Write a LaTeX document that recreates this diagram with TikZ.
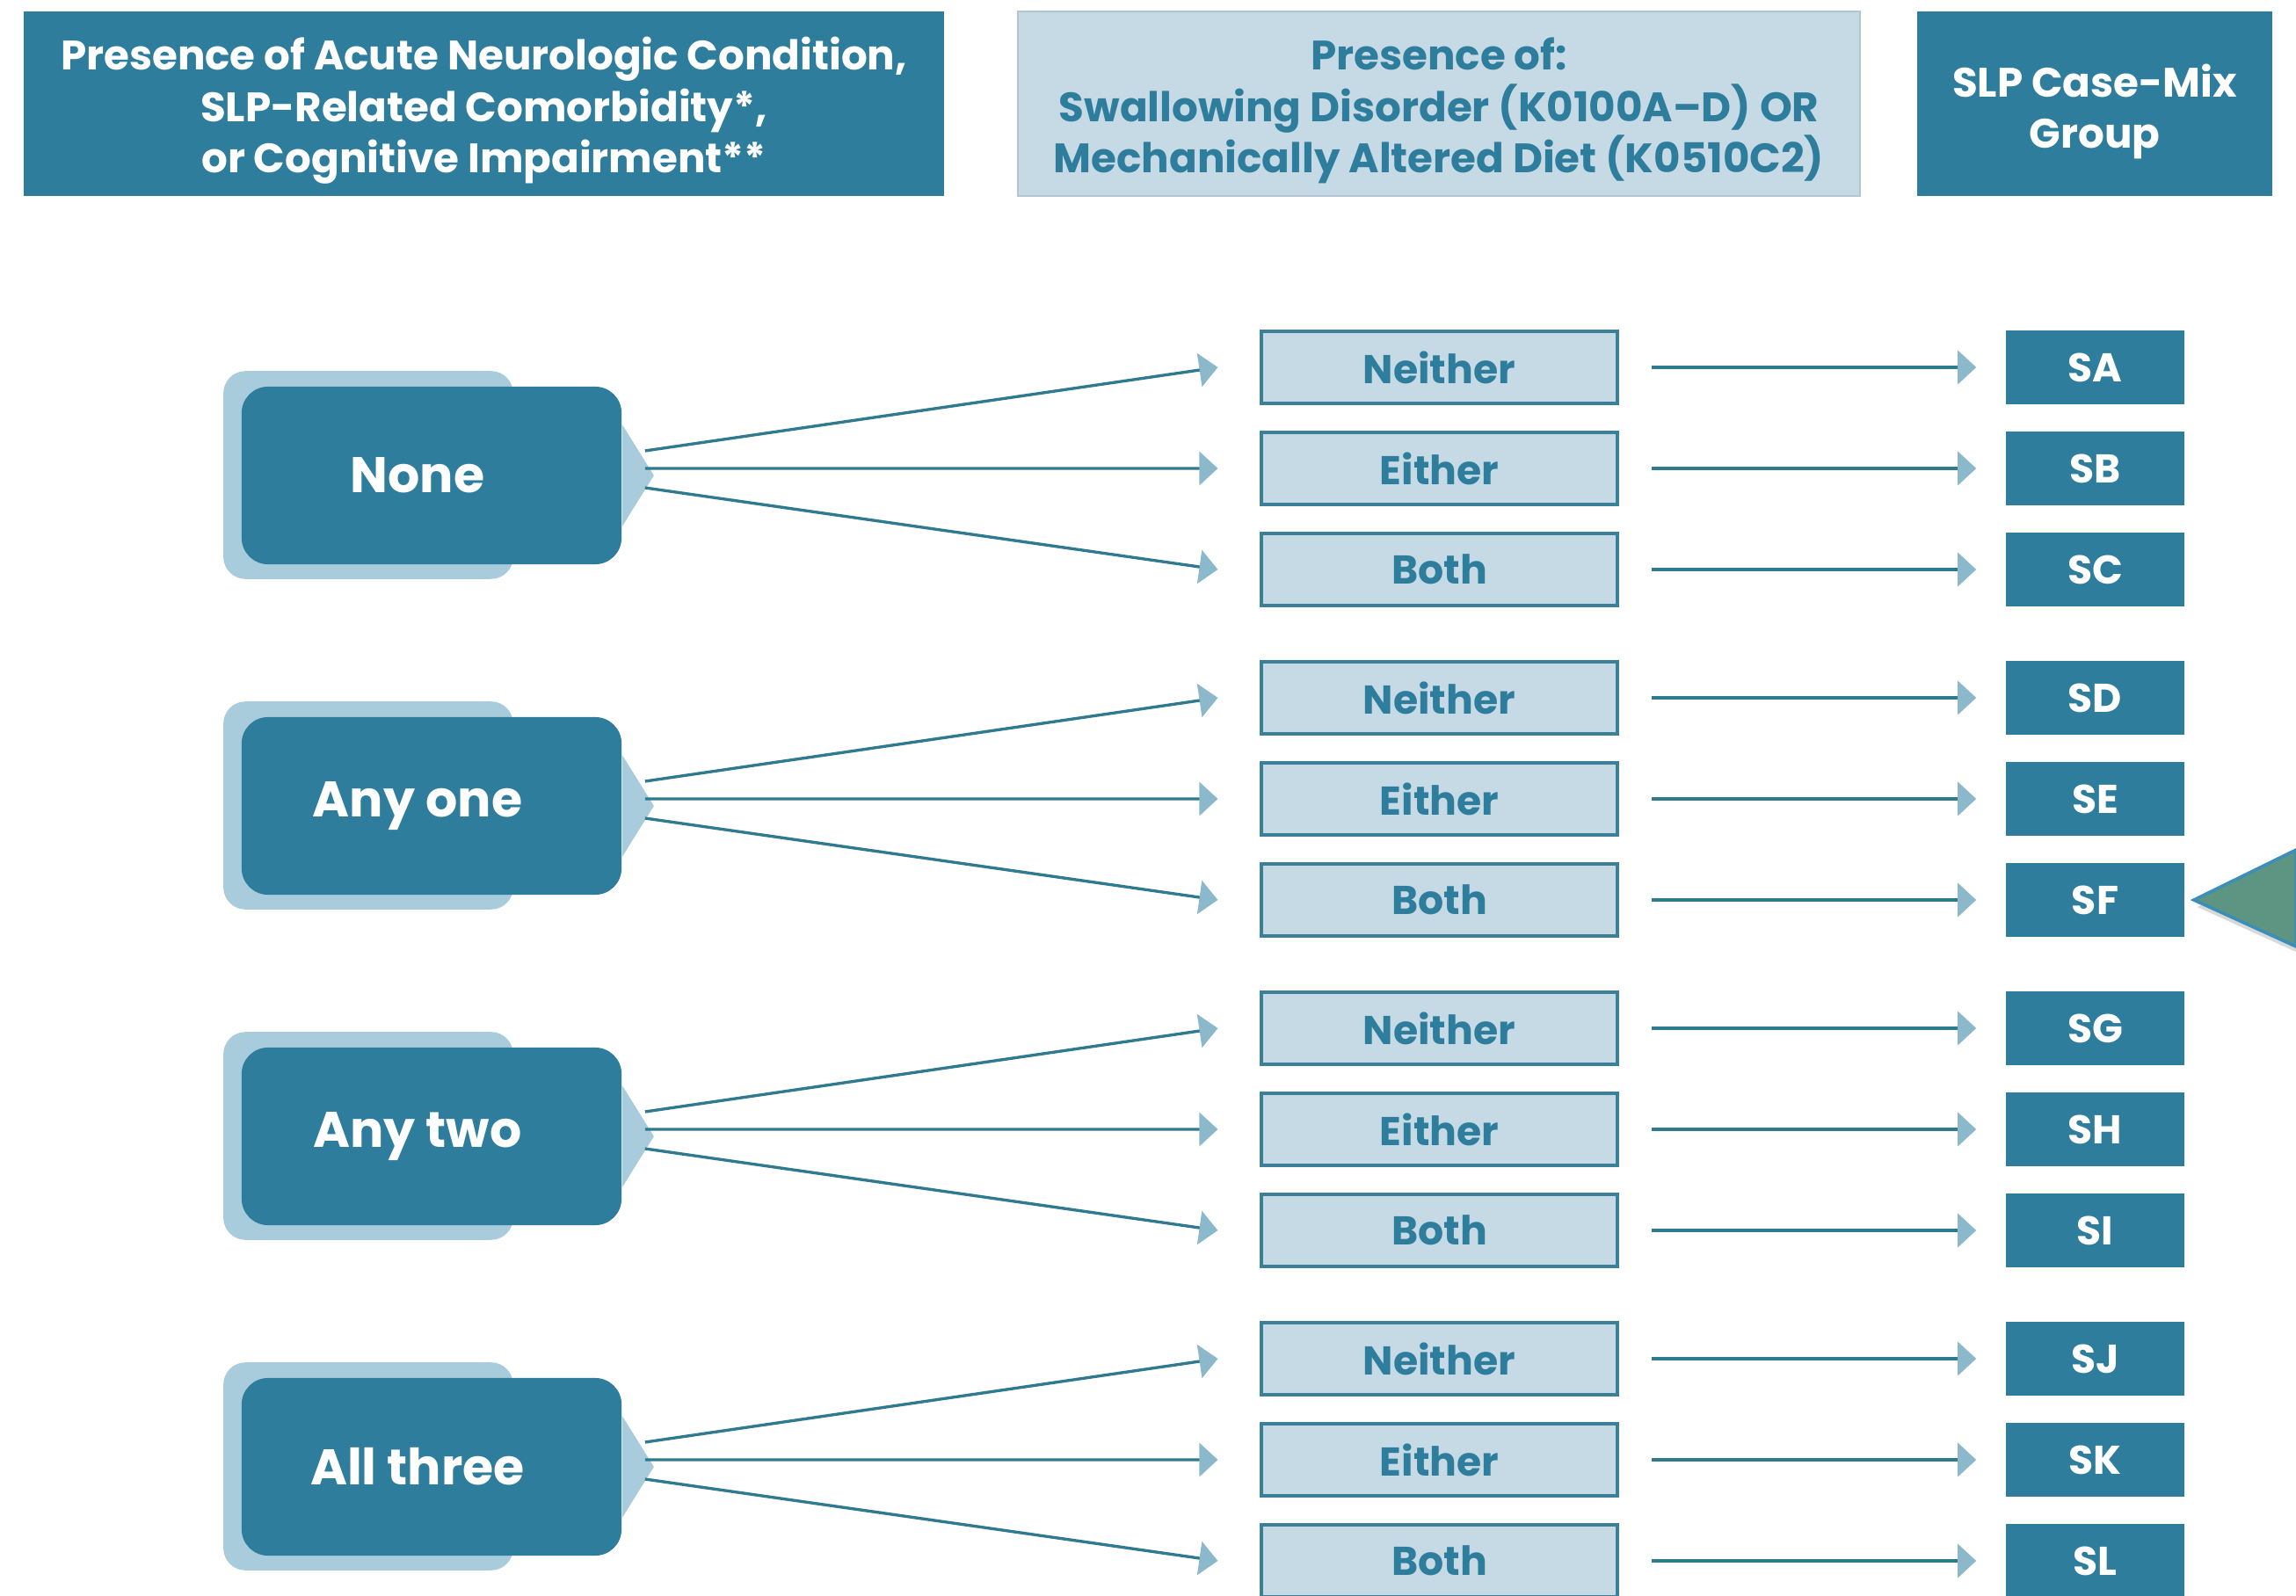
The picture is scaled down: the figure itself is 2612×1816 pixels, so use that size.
\documentclass[tikz,border=0pt]{standalone}
\usepackage{fontspec}
\setmainfont{Poppins}
\usetikzlibrary{arrows.meta,backgrounds,shadows}
\definecolor{dk}{HTML}{2E7D9D}
\definecolor{lt}{HTML}{C5DAE4}
\definecolor{bk}{HTML}{A9CCDC}
\definecolor{bd}{HTML}{3C7F99}
\definecolor{ln}{HTML}{2F7A8E}
\definecolor{tipc}{HTML}{8CB8CB}
\definecolor{gr}{HTML}{5E9482}
\definecolor{grb}{HTML}{3A8EB8}
\definecolor{hb}{HTML}{B3C6D0}
\begin{document}
\begin{tikzpicture}[x=0.01cm,y=-0.01cm,
  hdr/.style={align=center,inner sep=0pt,font=\bfseries\fontsize{13.3}{16.6}\selectfont},
  hdark/.style={inner sep=0pt,fill=dk},
  hlight/.style={inner sep=0pt,fill=lt,draw=hb,line width=0.6pt},
  cond/.style={fill=dk,text=white,rounded corners=0.3cm,minimum width=4.32cm,minimum height=2.02cm,inner sep=0pt,font=\bfseries\fontsize{16.2}{19}\selectfont},
  opt/.style={fill=lt,draw=bd,line width=1.1pt,text=dk,minimum width=4.04cm,minimum height=0.82cm,inner sep=0pt,font=\bfseries\fontsize{13}{15}\selectfont},
  grp/.style={fill=dk,text=white,minimum width=2.03cm,minimum height=0.84cm,inner sep=0pt,font=\bfseries\fontsize{13}{15}\selectfont},
  arr/.style={draw=ln,line width=0.95pt,-{Triangle[length=0.21cm,width=0.38cm,color=tipc]}}
]
\useasboundingbox (0,0) rectangle (2612,1816);
% headers
\node[hdark,minimum width=10.47cm,minimum height=2.1cm,
  label={[hdr,text=white,yshift=-0.08cm]center:{Presence of Acute Neurologic Condition,\\SLP-Related Comorbidity*,\\or Cognitive Impairment**}}] (h1) at (550.5,118) {};
\node[hlight,minimum width=9.58cm,minimum height=2.1cm,
  label={[hdr,text=dk,yshift=-0.08cm]center:{Presence of:\\Swallowing Disorder (K0100A–D) OR\\Mechanically Altered Diet (K0510C2)}}] (h2) at (1637,118) {};
\node[hdark,minimum width=4.04cm,minimum height=2.1cm,
  label={[hdr,text=white,yshift=-0.09cm]center:{SLP Case-Mix\\Group}}] (h3) at (2383,118) {};
% groups
\foreach \yc/\lab/\i/\la/\lb/\lc in {533/None/1/A/B/C, 909/Any one/2/D/E/F, 1285/Any two/3/G/H/I, 1661/All three/4/J/K/L}{
  \node[cond] (n\i) at (491,\yc+8) {\lab\hspace*{0.32cm}};
  \begin{scope}[on background layer]
    \fill[bk,rounded corners=0.25cm] ([shift={(-0.2cm,0.17cm)}]n\i.north west) rectangle ([shift={(-1.24cm,-0.16cm)}]n\i.south east);
    \fill[bk] ([yshift=0.58cm]n\i.east) -- ([xshift=0.36cm]n\i.east) -- ([yshift=-0.58cm]n\i.east) -- cycle;
  \end{scope}
  \foreach \k/\dy/\opttext/\L/\sy in {1/-115/Neither/\la/0.28, 2/0/Either/\lb/0.08, 3/115/Both/\lc/-0.14}{
    \node[opt] (o\i\k) at (1637.5,\yc+\dy) {\opttext};
    \node[grp] (g\i\k) at (2383.5,\yc+\dy) {S\L};
    \draw[arr] ([shift={(0.26cm,\sy cm)}]n\i.east) -- ([xshift=-0.48cm]o\i\k.west);
    \draw[arr] ([xshift=0.37cm]o\i\k.east) -- ([xshift=-0.33cm]g\i\k.west);
  }
}
% callout triangle
\filldraw[fill=gr,draw=grb,line width=1pt,drop shadow={opacity=0.3,shadow xshift=0.4mm,shadow yshift=-0.8mm}]
  ([xshift=0.1cm]g23.east) -- (2612,967) -- (2612,1077) -- cycle;
\end{tikzpicture}
\end{document}
